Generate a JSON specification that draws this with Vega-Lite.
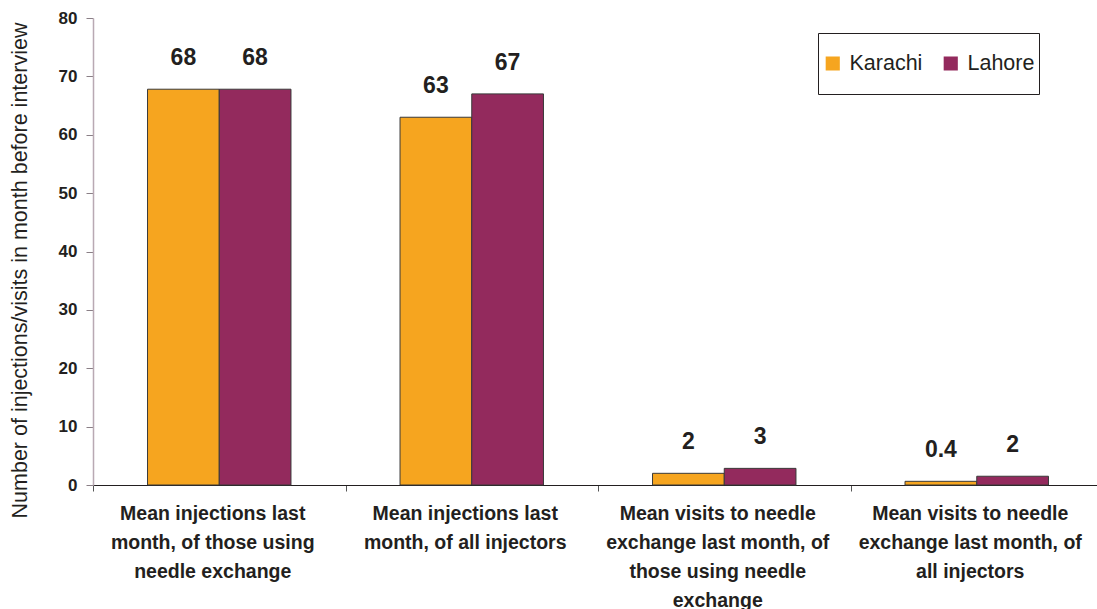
{
  "$schema": "https://vega.github.io/schema/vega-lite/v6.json",
  "width": 1010,
  "height": 467,
  "autosize": {"type": "none"},
  "padding": {"left": 93, "top": 18, "right": 0, "bottom": 124},
  "background": "white",
  "config": {
    "view": {"stroke": null},
    "font": "Liberation Sans"
  },
  "data": {
    "values": [
      {"measure": "Mean injections last|month, of those using|needle exchange", "city": "Karachi", "value": 67.8, "label": "68"},
      {"measure": "Mean injections last|month, of those using|needle exchange", "city": "Lahore", "value": 67.8, "label": "68"},
      {"measure": "Mean injections last|month, of all injectors", "city": "Karachi", "value": 63.0, "label": "63"},
      {"measure": "Mean injections last|month, of all injectors", "city": "Lahore", "value": 67.0, "label": "67"},
      {"measure": "Mean visits to needle|exchange last month, of|those using needle|exchange", "city": "Karachi", "value": 2.0, "label": "2"},
      {"measure": "Mean visits to needle|exchange last month, of|those using needle|exchange", "city": "Lahore", "value": 2.85, "label": "3"},
      {"measure": "Mean visits to needle|exchange last month, of|all injectors", "city": "Karachi", "value": 0.63, "label": "0.4"},
      {"measure": "Mean visits to needle|exchange last month, of|all injectors", "city": "Lahore", "value": 1.5, "label": "2"}
    ]
  },
  "encoding": {
    "x": {
      "field": "measure",
      "type": "nominal",
      "sort": null,
      "scale": {"paddingInner": 0, "paddingOuter": 0},
      "axis": {
        "title": null,
        "labelAngle": 0,
        "labelExpr": "split(datum.label, '|')",
        "labelFont": "Liberation Sans",
        "labelFontWeight": "bold",
        "labelFontSize": 19.5,
        "labelColor": "#231f20",
        "labelLineHeight": 29,
        "labelPadding": 13,
        "labelOffset": -7,
        "labelLimit": 400,
        "tickBand": "extent",
        "tickSize": 6,
        "tickColor": "#555555",
        "domainColor": "#231f20",
        "domainWidth": 1.2,
        "grid": false
      }
    },
    "xOffset": {
      "field": "city",
      "type": "nominal",
      "sort": ["Karachi", "Lahore"],
      "scale": {"paddingInner": 0, "paddingOuter": 0.76}
    },
    "y": {
      "field": "value",
      "type": "quantitative",
      "scale": {"domain": [0, 80], "nice": false},
      "axis": {
        "title": "Number of injections/visits in month before interview",
        "titleFont": "Liberation Sans",
        "titleFontWeight": "normal",
        "titleFontSize": 21.5,
        "titleColor": "#231f20",
        "titlePadding": 27,
        "titleY": 252,
        "values": [0, 10, 20, 30, 40, 50, 60, 70, 80],
        "labelFont": "Liberation Sans",
        "labelFontWeight": "bold",
        "labelFontSize": 17,
        "labelColor": "#231f20",
        "labelPadding": 9,
        "tickSize": 7,
        "tickColor": "#8a7f86",
        "domainColor": "#b9a9b3",
        "domainWidth": 1.5,
        "grid": false
      }
    }
  },
  "layer": [
    {
      "mark": {"type": "bar", "stroke": "#3a3a3a", "strokeWidth": 1},
      "encoding": {
        "color": {
          "field": "city",
          "type": "nominal",
          "sort": ["Karachi", "Lahore"],
          "scale": {"domain": ["Karachi", "Lahore"], "range": ["#F6A51F", "#932A5D"]},
          "legend": {
            "title": null,
            "orient": "none",
            "legendX": 725,
            "legendY": 15,
            "direction": "horizontal",
            "symbolType": "square",
            "symbolSize": 200,
            "symbolStrokeWidth": 0,
            "labelFont": "Liberation Sans",
            "labelFontSize": 21.5,
            "labelColor": "#231f20",
            "labelOffset": 6,
            "columnPadding": 17,
            "clipHeight": 53,
            "padding": 4,
            "strokeColor": "#231f20",
            "fillColor": "white"
          }
        }
      }
    },
    {
      "mark": {
        "type": "text",
        "dy": -31,
        "font": "Liberation Sans",
        "fontWeight": "bold",
        "fontSize": 23,
        "color": "#231f20",
        "baseline": "middle"
      },
      "encoding": {
        "text": {"field": "label", "type": "nominal"}
      }
    }
  ]
}
